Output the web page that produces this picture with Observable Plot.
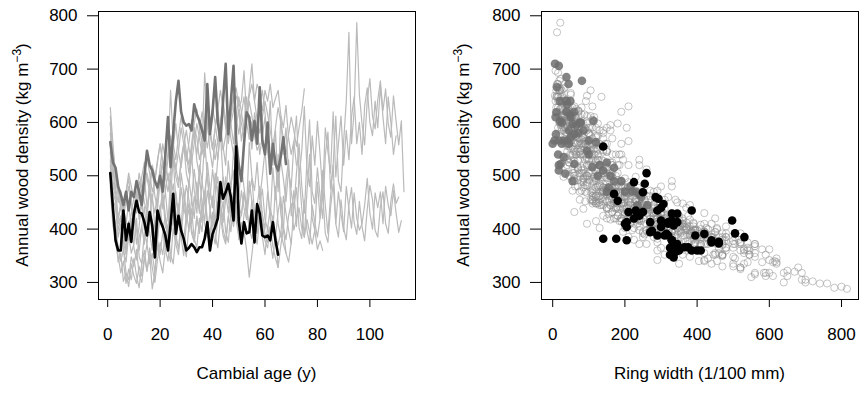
<!DOCTYPE html>
<html><head><meta charset="utf-8">
<script src="https://cdn.jsdelivr.net/npm/d3@7"></script>
<script src="https://cdn.jsdelivr.net/npm/@observablehq/plot@0.6"></script>
<style>
body{margin:0;background:#fff;}
#wrap{display:flex;width:859px;height:394px;overflow:hidden;}
svg{display:block}
</style></head><body><div id="wrap"></div>
<script>
// ---- tick values ----
const yTicks = [300, 400, 500, 600, 700, 800];
const ageTicks = [0, 20, 40, 60, 80, 100];
const rwTicks = [0, 200, 400, 600, 800];

// ---- grey trees: annual density (kg m-3) by cambial age, and ring width (1/100 mm) ----
const densA = [545,470,452,398,420,385,410,448,402,432,470,418,455,498,440,472,515,462,438,490,525,470,505,455,540,498,478,532,560,505,482,545,590,528,500,562,535,602,548,515,568,530,595,555,520,612,570,540,590,625,565,600,648,585,550,618,592,540,575,610,545,505,568,520,478,530,495,452,512,470,438,505,560,482,430,528,605,470,448,515,462,420,538,582,475,520,612,490,470,565,640,769,560,622,787,652,598,558,642,682,612,588,642,678,622,663,598,572,650,602,558,603,470];
const rwA = [120,185,90,240,150,210,95,170,130,60,140,205,75,110,180,55,125,160,85,190,45,135,100,170,65,115,150,40,90,130,175,70,35,120,155,60,95,30,140,80,50,110,25,85,130,45,75,105,35,20,90,55,15,70,115,40,60,125,80,30,65,140,45,100,165,75,120,185,55,150,195,85,40,130,210,60,25,145,110,70,125,175,50,35,160,95,28,115,140,45,30,12,75,40,21,50,85,110,35,22,60,90,38,18,70,30,95,120,26,55,100,45,150];
const densB = [598,512,470,418,445,392,360,415,388,430,372,405,455,398,420,478,410,385,452,500,438,470,415,492,530,455,428,505,468,412,485,540,472,445,520,488,565,498,455,512,470,532,580,495,450,528,472,545,505,460,518,478,440,562,498,472,525,455,500,548,480,420,515,455,540,430,395,490,530,425,472,405,505,440,385,470,540,420,398,488,420,510,445,392,462,520,410,470,428,395,480,438,402,468,420,398,410,445,495,430,400,468,440,470,410,480,445,425,472,430,394,416];
const rwB = [180,260,150,330,210,380,290,120,340,200,410,270,110,305,230,85,360,250,140,95,280,175,330,120,70,240,300,150,215,390,130,65,220,280,105,190,50,160,310,125,250,95,40,200,345,140,270,75,180,320,110,235,370,60,165,290,120,255,145,80,210,340,150,265,90,300,420,185,125,280,230,360,160,295,440,200,110,315,380,175,330,140,250,400,270,115,355,205,300,385,190,260,370,225,340,395,310,280,150,245,410,205,170,240,350,185,215,290,200,330,450,360];
const densC = [628,560,500,470,452,430,468,495,450,420,462,505,478,450,430,488,520,500,470,515,560,530,492,510,552,598,545,515,560,540,505,548,590,572,530,555,600,640,585,550,592,625,580,548,575,615,598,560,612,648,620,585,605,640,612,575,598,630,660,618,560,640,520,585,470,612,540,590,505,478,560,612,498,545,630,512,480,575,520,602,540,468,590,545,505,620,498,560,612,520,585,530,610,648,560,600,540,630,665,600,575,640,590,668,610,560,648,600,540,575];
const rwC = [80,150,45,200,120,260,95,60,175,230,110,55,140,190,225,85,40,130,160,70,35,100,180,120,50,25,75,145,90,115,165,60,30,85,135,95,20,15,70,125,40,22,100,150,65,30,80,110,28,12,45,95,60,18,35,120,70,25,10,55,90,38,130,160,75,105,185,50,140,200,115,55,30,150,210,85,62,125,240,95,48,170,205,100,58,190,230,118,72,145,88,40,62,135,42,20,78,110,33,18,50,92,24,10,30,65,16,45,85,105];
const densD = [520,455,440,385,410,362,338,390,355,372,420,348,335,395,372,430,388,352,410,445,398,425,372,462,418,390,448,405,475,432,395,458,420,488,440,412,470,505,432,462,410,480,445,420,498,455,432,470,512,445,425,468,430,490,452,408,445,480,428,400,470,420,395,480,410,385,462,430,398,372,440,478,402,382,455,398,372,445,412,385,420,468,392,375,440,485,410,385,455,402,380,445,478,412,390,452,405,378,438,482,455,398,385,442,470,410,392,452,485,448,460];
const rwD = [210,340,280,480,360,530,610,300,450,390,250,560,620,330,470,210,380,545,290,160,400,270,500,150,320,440,190,350,110,230,420,175,310,95,260,370,140,80,285,200,360,125,240,330,90,215,300,170,70,255,345,185,280,120,230,410,265,135,305,455,195,290,385,160,325,470,220,275,375,505,300,180,350,430,210,390,520,245,335,440,360,205,480,540,290,150,340,445,230,370,470,280,165,315,420,255,380,500,310,190,240,395,460,280,175,330,410,235,140,215,200];
const densE = [560,480,462,410,425,375,352,398,420,365,342,385,405,372,440,395,360,415,385,430,462,405,392,445,418,470,425,388,440,482,455,410,462,430,500,448,415,472,440,405,465,498,438,412,455,482,430,470,445,410,428,470,438,402,455,420,395,448,475,418,400,440,415,385,432,460,405,380,425,448,398,420,440,402,385,418,395,372,398,362,378,360];
const rwE = [190,330,260,440,375,520,590,300,230,480,600,410,285,455,180,350,530,240,400,215,130,320,385,160,270,105,225,420,175,90,145,290,120,235,60,190,340,110,205,365,150,75,255,330,130,95,280,170,215,390,310,140,245,425,165,300,450,195,115,350,430,225,320,480,200,140,370,515,260,180,395,290,210,455,505,330,420,560,370,600,480,545];
const densF = [600,545,500,470,452,432,470,505,480,455,430,468,498,525,495,470,455,492,530,560,528,500,545,660,560,530,575,610,580,545,520,560,598,625,590,560,693,612,580,550,588,625,660,628,595,570,612,648,665,630,598,572,615,650,672,640,605,580,610,640,615,585,555,590,628,600,570,540,578,610,585,555,590,620,663];
const rwF = [60,140,95,210,170,240,120,75,190,155,230,110,50,165,85,135,200,70,125,40,100,175,60,20,145,90,35,115,55,150,180,80,30,65,120,45,15,95,140,70,50,28,105,38,160,85,42,22,18,60,125,70,32,95,15,48,110,75,40,25,88,130,55,150,35,78,165,190,100,62,140,45,105,72,22];
const densG = [580,520,478,450,472,440,415,398,428,460,490,462,438,472,505,480,455,430,468,500,528,498,470,505,540,515,488,520,556,585,552,525,560,598,570,540,575,612,588,555,530,565,600,628,590,560,598,622,650,630,640,697,610,660,710,640,672,655,622,660,640,672,628,645,660,615,590,632,570,540,565,520];
const rwG = [100,165,210,130,80,245,190,270,155,115,60,200,225,140,90,175,120,250,205,160,70,135,185,105,55,150,210,95,40,25,120,160,80,35,110,175,65,22,90,140,195,75,45,15,100,130,58,30,12,42,28,8,65,20,5,38,14,50,72,25,36,12,55,32,18,80,110,44,140,165,95,185];
const densH = [530,445,372,350,318,340,298,325,305,345,312,290,335,360,322,352,288,318,372,340,318,365,398,352,335,390,362,415,372,348,408,438,382,365,420,395,462,410,372,428,388,365,418,452,395,375,432,405,448,380,412,395,360,310,352,398,372,420,385,352,405,378,345,392,328,368,402,355,338,375];
const rwH = [240,380,560,470,690,405,740,520,700,430,610,780,350,480,650,310,815,590,260,420,640,300,220,445,530,255,380,185,350,500,210,155,390,460,240,330,120,275,420,195,365,480,230,150,340,435,205,310,170,400,280,355,520,550,470,260,395,215,330,545,240,375,505,290,520,410,225,460,580,350];
const densI = [505,430,412,365,340,362,318,305,348,330,362,315,300,342,372,335,355,318,380,352,395,362,340,392,418,372,352,405,382,425,448,400,378,425,392,445,470,418,390,432,405,452,425,388,372,420,455,410,440,398,375,428,445,400,382,418,392,438,410,378,365,402,425,388,370,395,372,355];
const rwI = [260,420,350,540,615,400,585,690,330,470,380,560,640,290,240,500,420,600,225,360,195,330,455,250,160,375,470,205,290,140,120,270,385,180,310,130,90,235,345,165,295,115,215,380,425,190,105,260,150,340,440,200,135,320,410,240,355,175,280,450,500,305,220,390,470,330,430,560];
const densJ = [565,490,470,420,448,392,362,410,385,432,398,360,405,442,388,420,465,402,378,438,470,425,398,455,485,430,412,478,440,420,492,455,512,468,430,490,450,525,478,440,505,462,438,498,470,430,485,510,455,425,472,440,418,468,495,432,410,452,418,392,375,405,368,345,328];
const rwJ = [210,330,280,450,360,520,580,300,410,250,390,540,310,185,430,270,150,345,475,205,130,280,365,175,95,240,320,120,225,300,85,190,60,155,285,110,215,45,140,260,100,205,300,125,170,330,145,80,230,350,160,265,380,175,115,305,420,210,335,470,520,390,560,620,680];
const densK = [612,548,495,462,440,418,455,480,440,410,448,490,468,500,535,505,470,488,525,560,520,492,530,575,540,512,545,590,560,528,562,605,575,540,582,620,590,552,585,628,598,560,595,640,605,570,610,650,612,578,615,648,600,568,602,575,548,560];
const rwK = [55,130,85,190,150,240,110,70,175,215,125,60,160,95,35,140,200,80,45,120,165,100,50,20,75,150,40,15,90,130,70,25,55,110,38,12,62,95,30,10,48,85,22,8,40,72,28,6,35,60,24,10,45,80,32,58,105,68];
const densL = [480,405,388,338,355,302,318,292,335,312,298,330,312,348,320,365,328,300,342,375,352,395,360,338,402,372,420,385,350,412,438,392,375,420,398,448,410,385,432,395,372,418,445,400,378,425,395,452,415,388,410,385];
const rwL = [300,480,410,620,530,720,560,800,440,650,760,500,590,380,670,340,520,700,420,290,450,250,370,540,200,330,170,280,470,215,150,320,395,190,260,120,235,355,165,300,410,225,140,290,380,180,310,110,245,360,270,430];

// ---- highlighted trees ----
const densDark = [563,525,515,480,465,445,470,435,470,460,490,470,445,500,547,520,510,490,478,500,470,540,610,516,580,640,678,620,600,594,597,585,634,615,603,585,566,672,578,620,685,600,566,640,710,578,640,706,566,520,490,560,619,610,566,603,560,666,566,540,600,504,560,522,510,535,572,522];
const rwDark = [120,150,170,215,240,262,230,250,220,245,190,200,235,160,95,130,140,170,155,125,150,100,50,110,70,38,81,60,75,65,55,45,40,48,113,85,100,44,60,38,38,78,30,49,7,9,20,17,18,17,55,25,10,8,40,20,45,12,5,15,25,35,0,60,17,30,50,22];
const densBlack = [505,440,379,360,360,435,379,410,376,429,453,432,429,413,388,432,407,347,435,416,404,388,360,410,466,391,425,397,382,360,365,372,366,357,366,366,382,413,360,391,404,420,488,457,469,485,460,416,555,416,373,413,392,394,435,375,447,429,388,385,388,379,413,379,352];
const rwBlack = [260,300,330,345,400,385,440,320,460,345,180,210,330,270,290,250,335,335,230,300,205,320,410,200,170,315,240,275,140,385,325,345,330,340,375,365,176,205,350,420,300,225,225,293,250,255,285,497,140,330,460,345,505,270,290,440,307,235,310,531,395,205,320,330,325];

// ---- tables built from the arrays ----
const rows = (dens, rw, tree) => dens.map((d, i) => ({tree, age: i + 1, d, rw: rw[i]}));
const greyTrees = [[densA, rwA], [densB, rwB], [densC, rwC], [densD, rwD], [densE, rwE], [densF, rwF],
  [densG, rwG], [densH, rwH], [densI, rwI], [densJ, rwJ], [densK, rwK], [densL, rwL]];
const greyRows = greyTrees.flatMap(([d, w], t) => rows(d, w, "g" + t));
const darkRows = rows(densDark, rwDark, "dark");
const blackRows = rows(densBlack, rwBlack, "black");

const font = "'Liberation Sans', Arial, Helvetica, sans-serif";
const common = {
  height: 394, marginTop: 11, marginBottom: 95,
  style: `font-family:${font};font-size:17px;color:black;background:white;overflow:visible;`
};
const axes = (xt) => [
  Plot.frame({stroke: "black", strokeWidth: 1}),
  Plot.axisX({ticks: xt, tickSize: 8, tickPadding: 20, label: null, fontSize: 17}),
  Plot.axisY({ticks: yTicks, tickSize: 11, tickPadding: 10, label: null, fontSize: 17})
];

const left = Plot.plot({
  ...common, width: 430, marginLeft: 98, marginRight: 15,
  x: {domain: [-3.5, 117.4]}, y: {domain: [268, 808]},
  marks: [
    Plot.line(greyRows, {x: "age", y: "d", z: "tree", stroke: "#bababa", strokeWidth: 1.2}),
    Plot.line(darkRows, {x: "age", y: "d", stroke: "#737373", strokeWidth: 2.6}),
    Plot.line(blackRows, {x: "age", y: "d", stroke: "#000", strokeWidth: 2.6}),
    ...axes(ageTicks)
  ]
});

const right = Plot.plot({
  ...common, width: 429, marginLeft: 111, marginRight: 1,
  x: {domain: [-31, 847]}, y: {domain: [268, 808]},
  marks: [
    Plot.dot(greyRows, {x: "rw", y: "d", r: 3.6, stroke: "#8c8c8c", strokeOpacity: 0.5, strokeWidth: 1, fill: "none"}),
    Plot.dot(darkRows, {x: "rw", y: "d", r: 4.3, fill: "#6e6e6e", fillOpacity: 0.85, stroke: "none"}),
    Plot.dot(blackRows, {x: "rw", y: "d", r: 4.3, fill: "#000", stroke: "none"}),
    ...axes(rwTicks)
  ]
});

function titles(svg, xTitle, xCenter, yX) {
  const s = d3.select(svg);
  s.append("text").attr("x", xCenter).attr("y", 379).attr("text-anchor", "middle")
    .attr("font-size", 17).attr("fill", "black").text(xTitle);
  const t = s.append("text").attr("transform", `translate(${yX},155) rotate(-90)`)
    .attr("text-anchor", "middle").attr("dy", "0.35em").attr("font-size", 17).attr("fill", "black");
  t.append("tspan").text("Annual wood density (kg m");
  t.append("tspan").attr("dy", -7).attr("font-size", 12).text("\u22123");
  t.append("tspan").attr("dy", 7).text(")");
}
titles(left, "Cambial age (y)", 256.5, 22);
titles(right, "Ring width (1/100 mm)", 269.5, 33);

const wrap = document.getElementById("wrap");
wrap.appendChild(left);
wrap.appendChild(right);
</script>
</body></html>
